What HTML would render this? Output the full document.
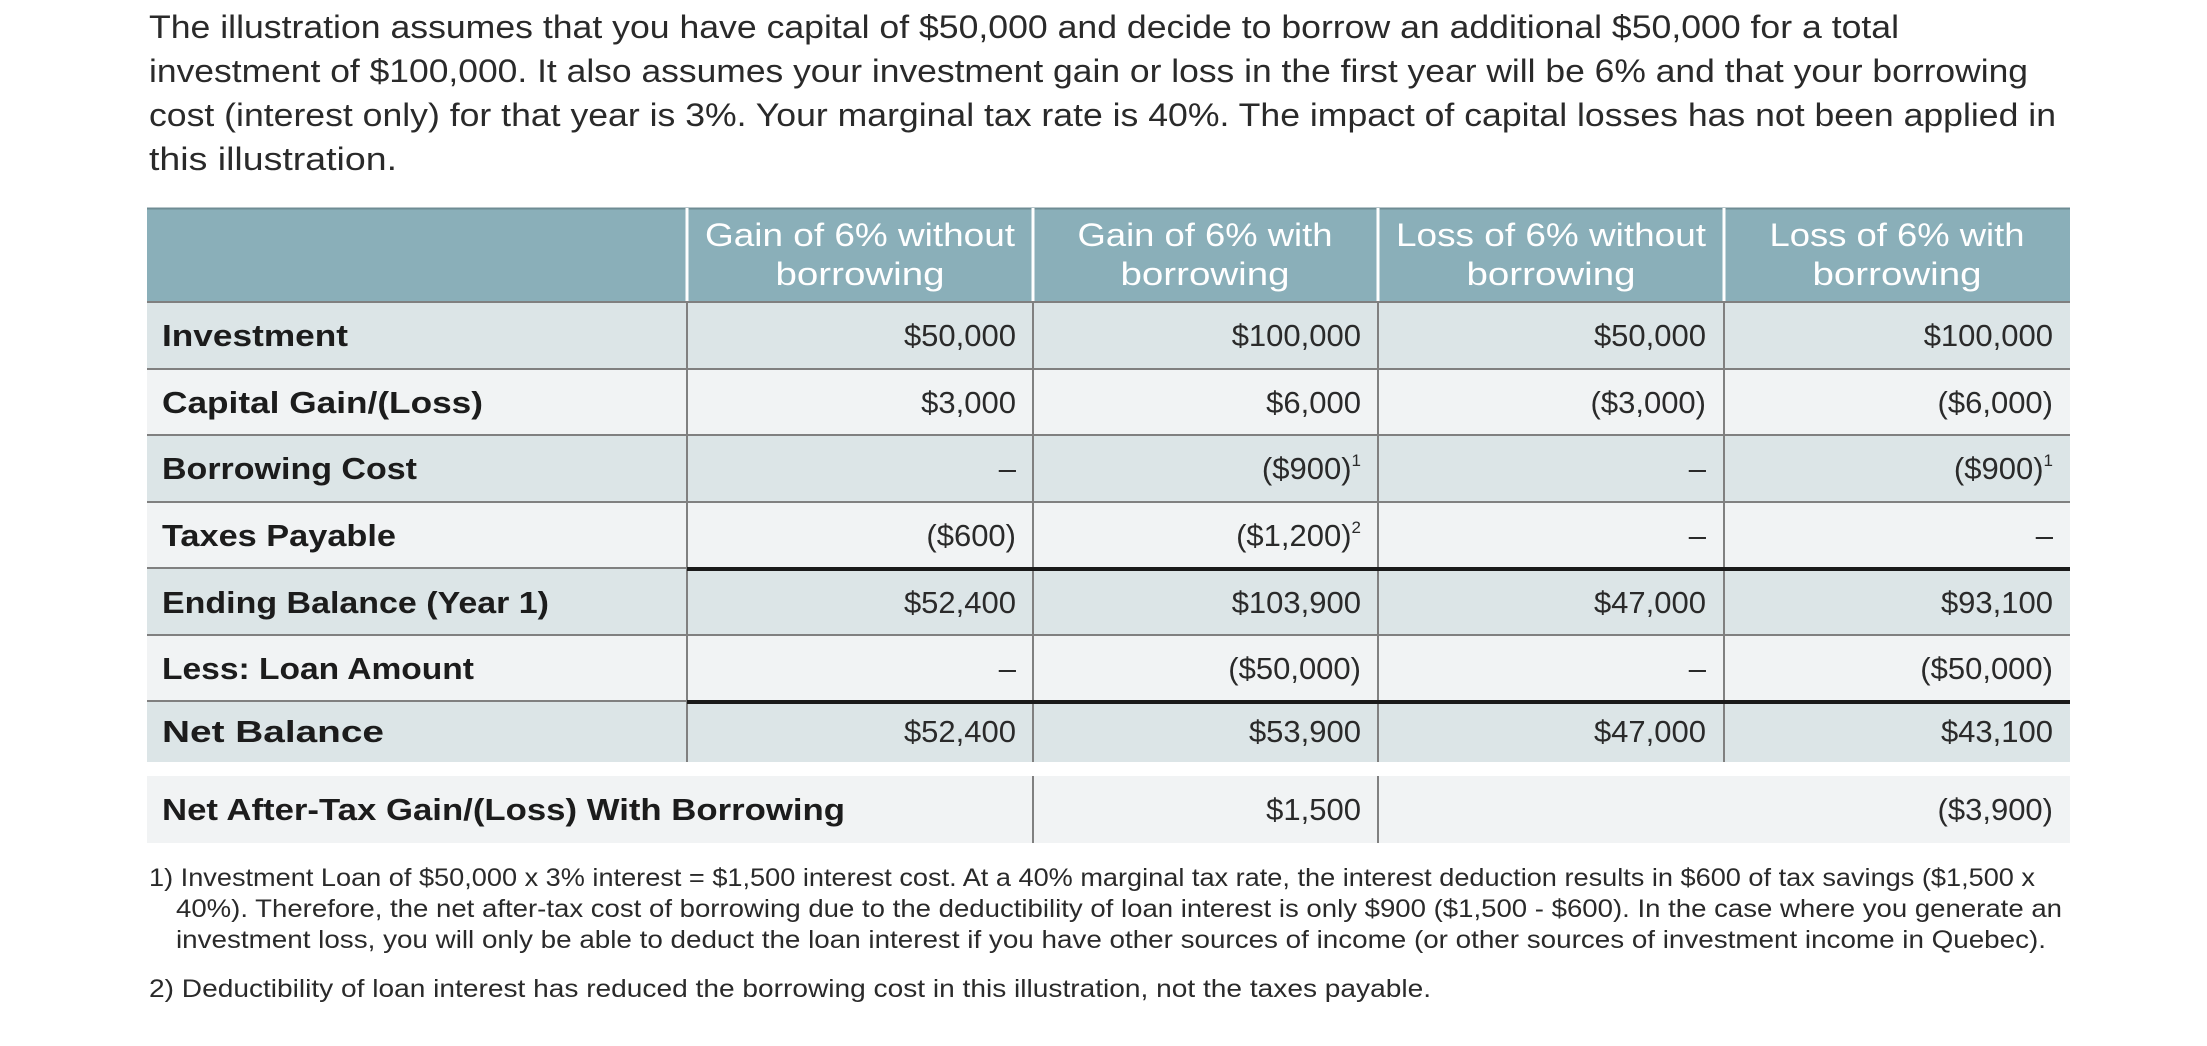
<!DOCTYPE html>
<html><head><meta charset="utf-8"><style>
html,body{margin:0;padding:0;background:#fff;width:2207px;height:1046px;overflow:hidden}
svg{display:block}
text{font-family:"Liberation Sans",sans-serif}
.i{font-size:32px;fill:#2a2a2a}
.h{font-size:32px;fill:#fff;text-anchor:middle}
.l{font-size:31px;font-weight:bold;fill:#1c1c1c}
.v{font-size:31px;fill:#2a2a2a;text-anchor:end}
.f{font-size:25px;fill:#2a2a2a}
.s{font-size:17px}
</style></head><body>
<svg width="2207" height="1046" viewBox="0 0 2207 1046">
<text class="i" x="149" y="38" textLength="1750" lengthAdjust="spacingAndGlyphs">The illustration assumes that you have capital of $50,000 and decide to borrow an additional $50,000 for a total</text>
<text class="i" x="149" y="82" textLength="1879" lengthAdjust="spacingAndGlyphs">investment of $100,000. It also assumes your investment gain or loss in the first year will be 6% and that your borrowing</text>
<text class="i" x="149" y="126" textLength="1907" lengthAdjust="spacingAndGlyphs">cost (interest only) for that year is 3%. Your marginal tax rate is 40%. The impact of capital losses has not been applied in</text>
<text class="i" x="149" y="170" textLength="248" lengthAdjust="spacingAndGlyphs">this illustration.</text>

<!-- header -->
<rect x="147" y="208" width="1923" height="94" fill="#8aafb9"/>
<line x1="147" y1="208.5" x2="2070" y2="208.5" stroke="#6f8c94" stroke-width="2"/>
<g stroke="#fff" stroke-width="3">
<line x1="687" y1="208" x2="687" y2="302"/><line x1="1033" y1="208" x2="1033" y2="302"/>
<line x1="1378" y1="208" x2="1378" y2="302"/><line x1="1724" y1="208" x2="1724" y2="302"/>
</g>
<text class="h" x="860" y="246" textLength="310" lengthAdjust="spacingAndGlyphs">Gain of 6% without</text>
<text class="h" x="860" y="285" textLength="169" lengthAdjust="spacingAndGlyphs">borrowing</text>
<text class="h" x="1205" y="246" textLength="255" lengthAdjust="spacingAndGlyphs">Gain of 6% with</text>
<text class="h" x="1205" y="285" textLength="169" lengthAdjust="spacingAndGlyphs">borrowing</text>
<text class="h" x="1551" y="246" textLength="310" lengthAdjust="spacingAndGlyphs">Loss of 6% without</text>
<text class="h" x="1551" y="285" textLength="169" lengthAdjust="spacingAndGlyphs">borrowing</text>
<text class="h" x="1897" y="246" textLength="255" lengthAdjust="spacingAndGlyphs">Loss of 6% with</text>
<text class="h" x="1897" y="285" textLength="169" lengthAdjust="spacingAndGlyphs">borrowing</text>

<!-- rows -->
<rect x="147" y="302" width="1923" height="67" fill="#dce5e7"/>
<rect x="147" y="369" width="1923" height="66" fill="#f1f3f4"/>
<rect x="147" y="435" width="1923" height="67" fill="#dce5e7"/>
<rect x="147" y="502" width="1923" height="66" fill="#f1f3f4"/>
<rect x="147" y="568" width="1923" height="67" fill="#dce5e7"/>
<rect x="147" y="635" width="1923" height="66" fill="#f1f3f4"/>
<rect x="147" y="701" width="1923" height="61" fill="#dce5e7"/>
<rect x="147" y="776" width="1923" height="67" fill="#f1f3f4"/>

<g stroke="#808080" stroke-width="2">
<line x1="147" y1="302" x2="2070" y2="302"/>
<line x1="147" y1="369" x2="2070" y2="369"/>
<line x1="147" y1="435" x2="2070" y2="435"/>
<line x1="147" y1="502" x2="2070" y2="502"/>
<line x1="147" y1="568" x2="687" y2="568"/>
<line x1="147" y1="635" x2="2070" y2="635"/>
<line x1="147" y1="701" x2="687" y2="701"/>
<line x1="687" y1="302" x2="687" y2="762"/>
<line x1="1033" y1="302" x2="1033" y2="762"/>
<line x1="1378" y1="302" x2="1378" y2="762"/>
<line x1="1724" y1="302" x2="1724" y2="762"/>
<line x1="1033" y1="776" x2="1033" y2="843"/>
<line x1="1378" y1="776" x2="1378" y2="843"/>
</g>
<g stroke="#1a1a1a" stroke-width="4">
<line x1="687" y1="569" x2="2070" y2="569"/>
<line x1="687" y1="702" x2="2070" y2="702"/>
</g>

<text class="l" x="162" y="346" textLength="186" lengthAdjust="spacingAndGlyphs">Investment</text>
<text class="l" x="162" y="413" textLength="321" lengthAdjust="spacingAndGlyphs">Capital Gain/(Loss)</text>
<text class="l" x="162" y="479" textLength="255" lengthAdjust="spacingAndGlyphs">Borrowing Cost</text>
<text class="l" x="162" y="546" textLength="234" lengthAdjust="spacingAndGlyphs">Taxes Payable</text>
<text class="l" x="162" y="613" textLength="387" lengthAdjust="spacingAndGlyphs">Ending Balance (Year 1)</text>
<text class="l" x="162" y="679" textLength="312" lengthAdjust="spacingAndGlyphs">Less: Loan Amount</text>
<text class="l" x="162" y="742" textLength="222" lengthAdjust="spacingAndGlyphs">Net Balance</text>
<text class="l" x="162" y="820" textLength="683" lengthAdjust="spacingAndGlyphs">Net After-Tax Gain/(Loss) With Borrowing</text>

<text class="v" x="1016" y="346">$50,000</text>
<text class="v" x="1361" y="346">$100,000</text>
<text class="v" x="1706" y="346">$50,000</text>
<text class="v" x="2053" y="346">$100,000</text>

<text class="v" x="1016" y="413">$3,000</text>
<text class="v" x="1361" y="413">$6,000</text>
<text class="v" x="1706" y="413">($3,000)</text>
<text class="v" x="2053" y="413">($6,000)</text>

<text class="v" x="1016" y="479">–</text>
<text class="v" x="1361" y="479">($900)<tspan class="s" dy="-13">1</tspan></text>
<text class="v" x="1706" y="479">–</text>
<text class="v" x="2053" y="479">($900)<tspan class="s" dy="-13">1</tspan></text>

<text class="v" x="1016" y="546">($600)</text>
<text class="v" x="1361" y="546">($1,200)<tspan class="s" dy="-13">2</tspan></text>
<text class="v" x="1706" y="546">–</text>
<text class="v" x="2053" y="546">–</text>

<text class="v" x="1016" y="613">$52,400</text>
<text class="v" x="1361" y="613">$103,900</text>
<text class="v" x="1706" y="613">$47,000</text>
<text class="v" x="2053" y="613">$93,100</text>

<text class="v" x="1016" y="679">–</text>
<text class="v" x="1361" y="679">($50,000)</text>
<text class="v" x="1706" y="679">–</text>
<text class="v" x="2053" y="679">($50,000)</text>

<text class="v" x="1016" y="742">$52,400</text>
<text class="v" x="1361" y="742">$53,900</text>
<text class="v" x="1706" y="742">$47,000</text>
<text class="v" x="2053" y="742">$43,100</text>

<text class="v" x="1361" y="820">$1,500</text>
<text class="v" x="2053" y="820">($3,900)</text>

<text class="f" x="149" y="886" textLength="1886" lengthAdjust="spacingAndGlyphs">1) Investment Loan of $50,000 x 3% interest = $1,500 interest cost. At a 40% marginal tax rate, the interest deduction results in $600 of tax savings ($1,500 x</text>
<text class="f" x="176" y="917" textLength="1886" lengthAdjust="spacingAndGlyphs">40%). Therefore, the net after-tax cost of borrowing due to the deductibility of loan interest is only $900 ($1,500 - $600). In the case where you generate an</text>
<text class="f" x="176" y="948" textLength="1870" lengthAdjust="spacingAndGlyphs">investment loss, you will only be able to deduct the loan interest if you have other sources of income (or other sources of investment income in Quebec).</text>
<text class="f" x="149" y="997" textLength="1282" lengthAdjust="spacingAndGlyphs">2) Deductibility of loan interest has reduced the borrowing cost in this illustration, not the taxes payable.</text>
</svg>
</body></html>
